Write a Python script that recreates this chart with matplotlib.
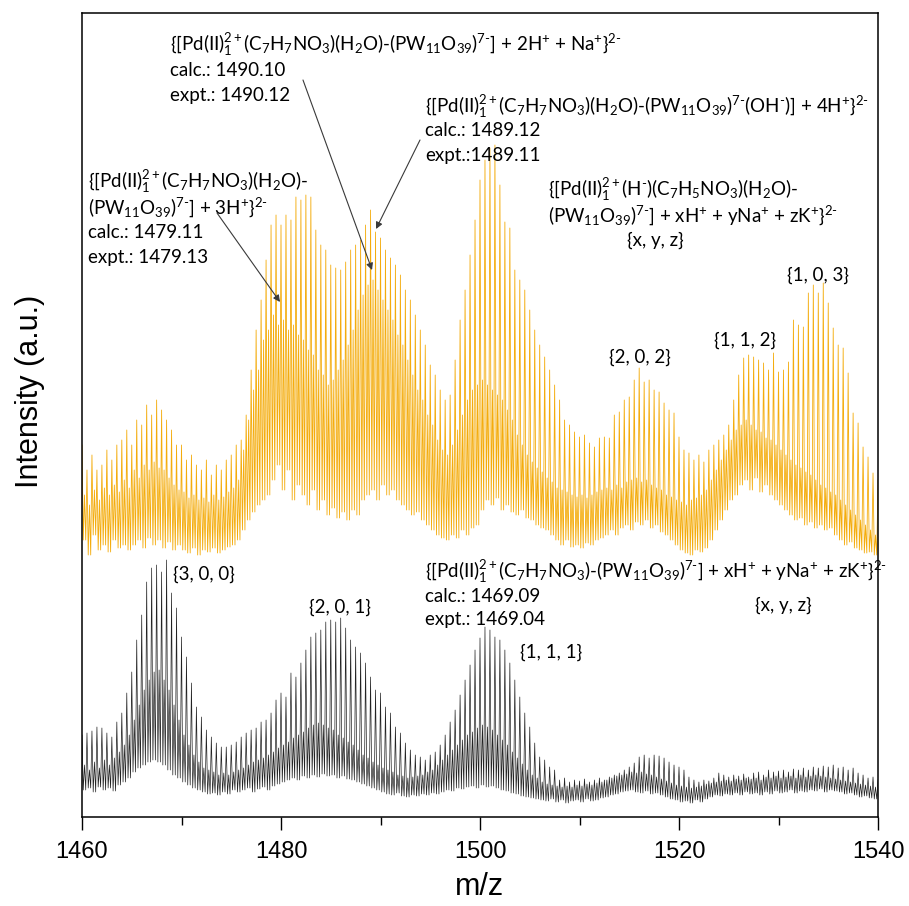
import numpy as np
import matplotlib
matplotlib.use('Agg')
import matplotlib.pyplot as plt

plt.rcParams['font.family'] = ['Liberation Sans', 'DejaVu Sans']
plt.rcParams['mathtext.fontset'] = 'custom'
plt.rcParams['mathtext.rm'] = 'Lato'
plt.rcParams['mathtext.it'] = 'Lato:italic'
plt.rcParams['mathtext.bf'] = 'Lato:bold'

# m/z of the isotope peaks (2- ions, 0.5 spacing)
mz = np.linspace(1460, 1540, 161)

# upper spectrum (orange): peak tops, secondary peaks, valleys (a.u.)
orange_top = [
    455, 430, 445, 430, 435, 450, 440, 455, 460, 470,
    455, 480, 475, 495, 485, 500, 490, 480, 470, 455,
    455, 440, 445, 435, 430, 440, 425, 435, 430, 440,
    445, 455, 460, 485, 530, 570, 600, 640, 675, 685,
    675, 685, 680, 703, 700, 705, 703, 670, 655, 650,
    635, 632, 630, 638, 650, 655, 660, 675, 690, 668,
    662, 650, 642, 635, 625, 610, 600, 585, 570, 555,
    535, 525, 510, 500, 505, 540, 580, 610, 645, 680,
    720, 740, 752, 755, 715, 678, 672, 630, 620, 610,
    590, 570, 555, 543, 530, 515, 500, 480, 475, 468,
    463, 465, 457, 453, 462, 463, 462, 485, 488, 500,
    503, 520, 532, 518, 520, 510, 508, 497, 490, 487,
    463, 450, 447, 440, 445, 438, 450, 455, 460, 465,
    475, 500, 525, 542, 545, 543, 540, 537, 530, 547,
    528, 530, 538, 580, 575, 573, 607, 615, 607, 617,
    597, 572, 555, 552, 527, 487, 477, 453, 443, 427,
    420]
orange_mid = [
    405, 395, 410, 400, 412, 405, 415, 408, 420, 412,
    430, 422, 435, 430, 438, 432, 430, 422, 415, 410,
    408, 402, 405, 400, 402, 398, 405, 400, 403, 408,
    412, 420, 450, 480, 510, 530, 560, 570, 585, 575,
    580, 570, 575, 565, 560, 550, 545, 530, 525, 515,
    520, 530, 540, 555, 570, 590, 605, 615, 620, 610,
    600, 590, 580, 565, 555, 540, 525, 510, 500, 485,
    475, 460, 450, 445, 455, 470, 485, 500, 510, 515,
    520, 515, 510, 505, 500, 490, 480, 465, 455, 445,
    438, 432, 428, 422, 418, 412, 410, 408, 405, 403,
    405, 402, 405, 408, 410, 412, 410, 415, 412, 418,
    420, 422, 418, 420, 415, 412, 410, 405, 403, 400,
    398, 395, 400, 402, 405, 410, 420, 430, 440, 450,
    460, 470, 475, 480, 475, 470, 468, 462, 460, 455,
    450, 445, 440, 435, 432, 428, 425, 420, 415, 412,
    408, 405, 400, 395, 390, 385, 380, 375, 370, 365]
orange_low = [
    360, 345, 365, 350, 355, 348, 360, 352, 355, 350,
    355, 360, 352, 362, 355, 360, 352, 358, 350, 355,
    350, 347, 352, 345, 350, 348, 352, 347, 350, 353,
    355, 360, 370, 380, 388, 395, 400, 405, 420, 435,
    410, 430, 400, 415, 405, 395, 410, 390, 400, 385,
    392, 382, 388, 380, 390, 385, 400, 405, 410, 400,
    415, 405, 410, 400, 395, 390, 385, 388, 380, 375,
    370, 365, 362, 360, 365, 362, 370, 365, 372, 375,
    390, 400, 395, 402, 390, 395, 388, 385, 390, 382,
    380, 375, 372, 370, 365, 360, 355, 360, 353, 355,
    352, 357, 355, 360, 362, 365, 370, 365, 372, 375,
    370, 378, 375, 380, 372, 375, 368, 365, 360, 355,
    350, 347, 345, 350, 348, 352, 360, 370, 380, 390,
    400, 405, 415, 420, 410, 422, 408, 415, 405, 400,
    395, 390, 385, 380, 382, 375, 378, 372, 375, 370,
    372, 365, 360, 355, 358, 352, 350, 347, 348, 345]

# lower spectrum (black)
black_top = [
    165, 167, 169, 173, 172, 167, 163, 178, 187, 207,
    228, 260, 285, 318, 332, 335, 328, 340, 307, 292,
    263, 243, 217, 193, 183, 170, 163, 157, 153, 153,
    155, 158, 163, 167, 170, 172, 178, 180, 187, 200,
    207, 203, 227, 223, 237, 250, 263, 267, 270, 278,
    280, 278, 282, 272, 260, 253, 247, 237, 223, 210,
    207, 193, 187, 173, 167, 157, 150, 145, 143, 140,
    145, 148, 155, 165, 178, 190, 205, 220, 235, 250,
    262, 273, 270, 263, 260, 250, 237, 220, 203, 187,
    173, 157, 143, 140, 133, 130, 120, 122, 118, 120,
    119, 121, 118, 120, 122, 120, 123, 125, 127, 130,
    133, 137, 143, 145, 142, 145, 144, 142, 138, 135,
    133, 130, 123, 120, 118, 120, 119, 122, 127, 125,
    123, 125, 124, 126, 123, 127, 128, 125, 130, 128,
    129, 130, 128, 131, 130, 132, 130, 133, 132, 134,
    133, 135, 132, 133, 130, 132, 127, 125, 122, 123,
    120]
black_mid = [
    135, 130, 138, 132, 140, 135, 142, 148, 155, 165,
    180, 195, 210, 220, 228, 230, 220, 210, 195, 180,
    165, 155, 145, 138, 132, 130, 128, 125, 127, 125,
    128, 130, 132, 135, 138, 140, 142, 145, 148, 152,
    155, 158, 162, 165, 168, 172, 175, 177, 175, 172,
    170, 165, 162, 158, 155, 150, 145, 142, 138, 135,
    132, 130, 128, 125, 124, 122, 123, 124, 125, 128,
    130, 135, 140, 145, 150, 155, 160, 165, 168, 172,
    175, 173, 170, 165, 160, 155, 148, 142, 136, 130,
    125, 122, 118, 116, 115, 114, 113, 114, 113, 115,
    114, 116, 115, 117, 118, 120, 122, 124, 125, 126,
    128, 127, 128, 126, 125, 123, 121, 119, 117, 115,
    114, 113, 112, 113, 114, 116, 117, 118, 119, 120,
    119, 121, 120, 122, 121, 122, 120, 123, 122, 124,
    122, 123, 124, 122, 125, 123, 124, 125, 124, 123,
    122, 121, 120, 119, 118, 117, 116, 115, 114, 113]
black_low = [
    110, 112, 108, 113, 110, 112, 109, 115, 118, 122,
    128, 132, 135, 138, 140, 138, 135, 130, 125, 122,
    118, 115, 112, 110, 108, 106, 107, 105, 108, 106,
    110, 108, 110, 112, 108, 111, 113, 110, 114, 116,
    118, 120, 122, 120, 124, 122, 125, 123, 126, 124,
    125, 122, 124, 121, 120, 118, 116, 114, 112, 110,
    108, 106, 105, 107, 104, 103, 105, 104, 106, 105,
    107, 106, 108, 110, 109, 112, 111, 113, 114, 112,
    115, 113, 114, 112, 110, 109, 107, 106, 104, 103,
    102, 101, 100, 99, 101, 98, 100, 97, 99, 100,
    98, 101, 99, 100, 102, 103, 105, 106, 108, 109,
    110, 108, 107, 109, 106, 107, 105, 103, 101, 100,
    98, 99, 97, 100, 98, 101, 103, 105, 104, 106,
    105, 107, 105, 108, 106, 107, 105, 108, 106, 109,
    107, 108, 110, 107, 109, 108, 110, 109, 111, 108,
    110, 109, 108, 106, 107, 105, 103, 104, 102, 101]


def profile(tops, mids, lows):
    # peak -> valley -> small peak -> valley -> next peak
    xs, ys = [], []
    for i in range(len(lows)):
        m = mz[i]
        xs += [m, m + 0.125, m + 0.25, m + 0.375]
        ys += [tops[i], lows[i], mids[i], lows[i]]
    xs.append(mz[-1])
    ys.append(tops[-1])
    return xs, ys


fig = plt.figure(figsize=(9.09, 9.06), dpi=100)
ax = fig.add_axes([82 / 909, 89 / 906, 796 / 909, 804 / 906])

x, y = profile(orange_top, orange_mid, orange_low)
ax.plot(x, y, color='#F4AC0C', lw=0.6)
x, y = profile(black_top, black_mid, black_low)
ax.plot(x, y, color='#222222', lw=0.5)

ax.set_xlim(1460, 1540)
ax.set_ylim(83, 887)
ax.set_xticks([1460, 1480, 1500, 1520, 1540])
ax.set_xticks([1470, 1490, 1510, 1530], minor=True)
ax.set_yticks([])
ax.tick_params(axis='x', which='major', direction='out', length=9, width=1.0,
               labelsize=17, pad=8)
ax.tick_params(axis='x', which='minor', direction='out', length=5.5, width=1.0)
for s in ax.spines.values():
    s.set_linewidth(1.1)

ax.set_xlabel('m/z', fontsize=22)
ax.xaxis.set_label_coords(0.5, -0.068)
ax.set_ylabel('Intensity (a.u.)', fontsize=22)
ax.yaxis.set_label_coords(-0.047, 0.53)

fs = 13.5
tkw = dict(fontsize=fs, family='Lato', va='center')
pd = r'{[Pd(II)$_1^{2+}$'
pw = r'(PW$_{11}$O$_{39}$)$^{7\text{-}}$'

# upper spectrum annotations
ax.text(1468.84, 855, pd + r'(C$_7$H$_7$NO$_3$)(H$_2$O)-' + pw + r'] + 2H$^{+}$ + Na$^{+}$}$^{2\text{-}}$', **tkw)
ax.text(1468.84, 830, 'calc.: 1490.10', **tkw)
ax.text(1468.84, 805, 'expt.: 1490.12', **tkw)

ax.text(1494.47, 793, pd + r'(C$_7$H$_7$NO$_3$)(H$_2$O)-' + pw + r'(OH$^{\text{-}}$)] + 4H$^{+}$}$^{2\text{-}}$', **tkw)
ax.text(1494.47, 770, 'calc.: 1489.12', **tkw)
ax.text(1494.47, 745, 'expt.:1489.11', **tkw)

ax.text(1506.83, 710, pd + r'(H$^{\text{-}}$)(C$_7$H$_5$NO$_3$)(H$_2$O)-', **tkw)
ax.text(1506.83, 685, pw + r'] + xH$^{+}$ + yNa$^{+}$ + zK$^{+}$}$^{2\text{-}}$', **tkw)
ax.text(1517.59, 660, '{x, y, z}', ha='center', **tkw)

ax.text(1460.6, 718, pd + r'(C$_7$H$_7$NO$_3$)(H$_2$O)-', **tkw)
ax.text(1460.6, 693, pw + r'] + 3H$^{+}$}$^{2\text{-}}$', **tkw)
ax.text(1460.6, 668, 'calc.: 1479.11', **tkw)
ax.text(1460.6, 643, 'expt.: 1479.13', **tkw)

ax.text(1516.08, 543, '{2, 0, 2}', ha='center', **tkw)
ax.text(1526.63, 560, '{1, 1, 2}', ha='center', **tkw)
ax.text(1533.97, 625, '{1, 0, 3}', ha='center', **tkw)

# lower spectrum annotations
ax.text(1494.47, 328, pd + r'(C$_7$H$_7$NO$_3$)-' + pw + r'] + xH$^{+}$ + yNa$^{+}$ + zK$^{+}$}$^{2\text{-}}$', **tkw)
ax.text(1494.47, 303, 'calc.: 1469.09', **tkw)
ax.text(1494.47, 280, 'expt.: 1469.04', **tkw)
ax.text(1530.45, 295, '{x, y, z}', ha='center', **tkw)

ax.text(1469.15, 326, '{3, 0, 0}', **tkw)
ax.text(1485.93, 293, '{2, 0, 1}', ha='center', **tkw)
ax.text(1507.14, 248, '{1, 1, 1}', ha='center', **tkw)

arw = dict(arrowstyle='-|>', color='#3a3a3a', lw=0.8, mutation_scale=10,
           shrinkA=0, shrinkB=0)
ax.annotate('', xy=(1489.15, 630), xytext=(1482.21, 820), arrowprops=arw)
ax.annotate('', xy=(1489.55, 671), xytext=(1493.97, 760), arrowprops=arw)
ax.annotate('', xy=(1479.90, 598), xytext=(1473.57, 687), arrowprops=arw)

fig.savefig('out.png', dpi=100)
